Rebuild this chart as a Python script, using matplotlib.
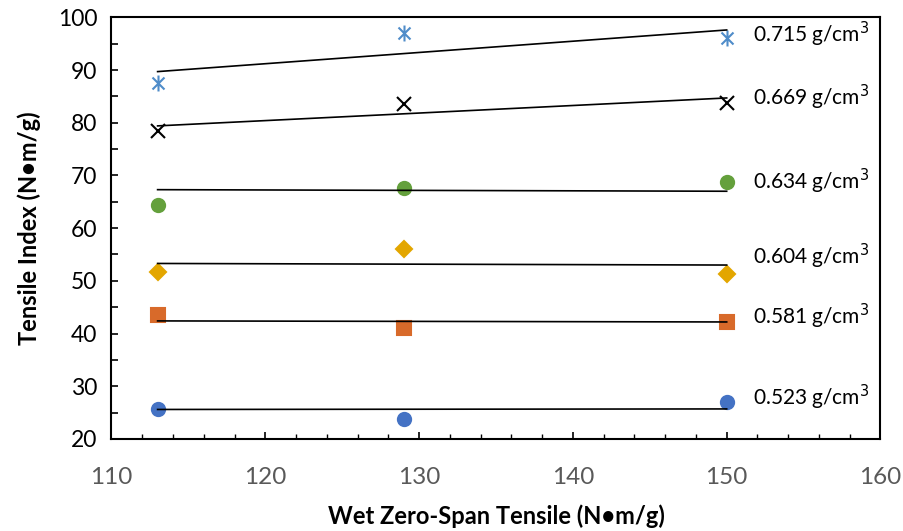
import numpy as np
import matplotlib
matplotlib.use("Agg")
import matplotlib.pyplot as plt
from matplotlib.ticker import MultipleLocator
from matplotlib.path import Path

plt.rcParams['font.family'] = ['Lato', 'DejaVu Sans']

# --- dane ---
zero_span = [113, 129, 150]
densities = ["0.523", "0.581", "0.604", "0.634", "0.669", "0.715"]
tensile = [
    [25.7, 23.7, 27.1],
    [43.5, 41.0, 42.2],
    [51.7, 56.0, 51.3],
    [64.4, 67.7, 68.8],
    [78.4, 83.5, 83.7],
    [87.5, 97.0, 96.1],
]
# linie trendu (wartość na początku i końcu)
trend_start = [25.6, 42.4, 53.3, 67.3, 79.4, 89.7]
trend_end = [25.7, 42.2, 53.0, 67.0, 84.7, 97.6]

# --- styl ---
# gwiazdka w stylu Excela: pionowa kreska + X
star = Path([(0, -1), (0, 1), (-0.75, -0.75), (0.75, 0.75), (-0.75, 0.75), (0.75, -0.75)],
            [Path.MOVETO, Path.LINETO, Path.MOVETO, Path.LINETO, Path.MOVETO, Path.LINETO])
markers = ['o', 's', 'D', 'o', 'x', star]
colors = ['#4472C4', '#D86A2A', '#E3A600', '#64A03C', '#000000', '#4F8CC9']
msizes = [9.5, 9.5, 8.0, 9.5, 10.5, 11.5]
label_y = [27.8, 43.2, 54.7, 68.8, 84.9, 96.8]

fig = plt.figure(figsize=(9.04, 5.31), dpi=100)
ax = fig.add_axes([0.1233, 0.1733, 0.8507, 0.7941])

for i in range(len(densities)):
    ax.plot(zero_span, tensile[i], linestyle='none', marker=markers[i],
            color=colors[i], markersize=msizes[i], markeredgewidth=1.5,
            zorder=2)
    ax.plot([zero_span[0], zero_span[-1]], [trend_start[i], trend_end[i]],
            color='black', linewidth=1.2, zorder=3)
    ax.text(151.7, label_y[i], densities[i] + " g/cm$^3$", fontsize=15,
            va='center', ha='left', color='black')

ax.set_xlim(110, 160)
ax.set_ylim(20, 100)
ax.xaxis.set_major_locator(MultipleLocator(10))
ax.xaxis.set_minor_locator(MultipleLocator(2))
ax.yaxis.set_major_locator(MultipleLocator(10))
ax.yaxis.set_minor_locator(MultipleLocator(5))

for s in ax.spines.values():
    s.set_linewidth(1.5)

ax.tick_params(axis='x', which='major', direction='in', length=5, width=1.2,
               labelsize=17.5, labelcolor='#595959', pad=20)
ax.tick_params(axis='x', which='minor', direction='in', length=3.5, width=1.0)
ax.tick_params(axis='y', which='both', direction='in', length=5, width=1.2)
ax.tick_params(axis='y', which='major', labelsize=16.5, labelcolor='black', pad=10)

ax.set_xlabel("Wet Zero-Span Tensile (N•m/g)", fontsize=17, fontweight='bold',
              labelpad=12)
ax.set_ylabel("Tensile Index (N•m/g)", fontsize=17, fontweight='bold',
              labelpad=12)

fig.savefig("out.png", dpi=100)
